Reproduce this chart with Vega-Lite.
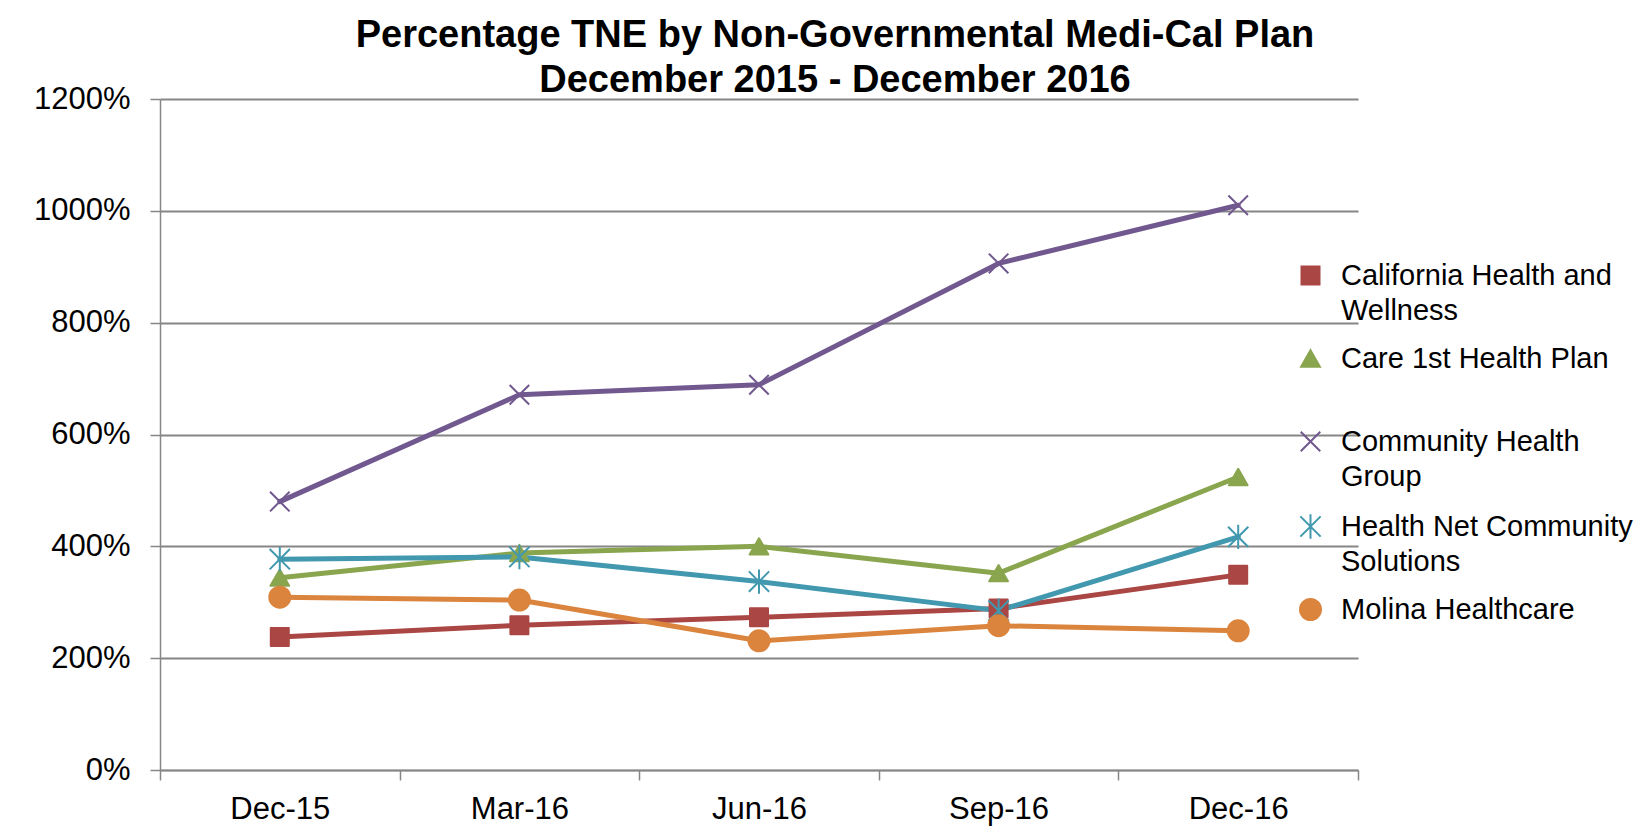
{
  "$schema": "https://vega.github.io/schema/vega-lite/v6.json",
  "width": 1198,
  "height": 671,
  "autosize": {"type": "none"},
  "padding": {"left": 160, "top": 99, "right": 290, "bottom": 59},
  "background": "white",
  "title": {
    "text": ["Percentage TNE by Non-Governmental Medi-Cal Plan", "December 2015 - December 2016"],
    "font": "Liberation Sans",
    "fontSize": 38,
    "fontWeight": "bold",
    "color": "black",
    "lineHeight": 45,
    "anchor": "middle",
    "frame": "group",
    "dx": 76,
    "offset": -17
  },
  "data": {
    "values": [
      {"plan": "California Health and Wellness", "month": "Dec-15", "pct": 238},
      {"plan": "California Health and Wellness", "month": "Mar-16", "pct": 259},
      {"plan": "California Health and Wellness", "month": "Jun-16", "pct": 273},
      {"plan": "California Health and Wellness", "month": "Sep-16", "pct": 289},
      {"plan": "California Health and Wellness", "month": "Dec-16", "pct": 349},
      {"plan": "Care 1st Health Plan", "month": "Dec-15", "pct": 344},
      {"plan": "Care 1st Health Plan", "month": "Mar-16", "pct": 388},
      {"plan": "Care 1st Health Plan", "month": "Jun-16", "pct": 400},
      {"plan": "Care 1st Health Plan", "month": "Sep-16", "pct": 352},
      {"plan": "Care 1st Health Plan", "month": "Dec-16", "pct": 524},
      {"plan": "Community Health Group", "month": "Dec-15", "pct": 480},
      {"plan": "Community Health Group", "month": "Mar-16", "pct": 671},
      {"plan": "Community Health Group", "month": "Jun-16", "pct": 689},
      {"plan": "Community Health Group", "month": "Sep-16", "pct": 906},
      {"plan": "Community Health Group", "month": "Dec-16", "pct": 1010},
      {"plan": "Health Net Community Solutions", "month": "Dec-15", "pct": 377},
      {"plan": "Health Net Community Solutions", "month": "Mar-16", "pct": 381},
      {"plan": "Health Net Community Solutions", "month": "Jun-16", "pct": 337},
      {"plan": "Health Net Community Solutions", "month": "Sep-16", "pct": 285},
      {"plan": "Health Net Community Solutions", "month": "Dec-16", "pct": 417},
      {"plan": "Molina Healthcare", "month": "Dec-15", "pct": 309},
      {"plan": "Molina Healthcare", "month": "Mar-16", "pct": 304},
      {"plan": "Molina Healthcare", "month": "Jun-16", "pct": 231},
      {"plan": "Molina Healthcare", "month": "Sep-16", "pct": 258},
      {"plan": "Molina Healthcare", "month": "Dec-16", "pct": 249}
    ]
  },
  "encoding": {
    "x": {
      "field": "month",
      "type": "ordinal",
      "sort": ["Dec-15", "Mar-16", "Jun-16", "Sep-16", "Dec-16"],
      "scale": {"type": "band", "paddingInner": 0, "paddingOuter": 0},
      "axis": {
        "title": null,
        "grid": false,
        "tickBand": "extent",
        "labelAngle": 0,
        "domainColor": "#868686",
        "domainWidth": 1.5,
        "tickColor": "#868686",
        "tickWidth": 1.5,
        "tickSize": 10,
        "labelFont": "Liberation Sans",
        "labelFontSize": 31,
        "labelColor": "black",
        "labelPadding": 14
      }
    },
    "y": {
      "field": "pct",
      "type": "quantitative",
      "scale": {"domain": [0, 1200], "nice": false, "zero": true},
      "axis": {
        "title": null,
        "values": [0, 200, 400, 600, 800, 1000, 1200],
        "labelExpr": "datum.value + '%'",
        "grid": true,
        "gridColor": "#868686",
        "gridWidth": 2,
        "domainColor": "#868686",
        "domainWidth": 1.5,
        "tickColor": "#868686",
        "tickWidth": 1.5,
        "tickSize": 10,
        "labelFont": "Liberation Sans",
        "labelFontSize": 31,
        "labelColor": "black",
        "labelPadding": 20
      }
    },
    "color": {
      "field": "plan",
      "type": "nominal",
      "scale": {
        "domain": ["California Health and Wellness", "Care 1st Health Plan", "Community Health Group", "Health Net Community Solutions", "Molina Healthcare"],
        "range": ["#AA4643", "#89A54E", "#71588F", "#4198AF", "#DB843D"]
      },
      "legend": {
        "orient": "none",
        "legendX": 1136,
        "legendY": 162,
        "title": null,
        "padding": 0,
        "labelFont": "Liberation Sans",
        "labelFontSize": 29,
        "labelColor": "black",
        "labelLimit": 400,
        "labelOffset": 16,
        "rowPadding": 18,
        "symbolSize": 324,
        "symbolStrokeWidth": 2,
        "labelExpr": "datum.label == 'California Health and Wellness' ? ['California Health and', 'Wellness'] : datum.label == 'Community Health Group' ? ['Community Health', 'Group'] : datum.label == 'Health Net Community Solutions' ? ['Health Net Community', 'Solutions'] : [datum.label, '']",
        "encode": {
          "labels": {"update": {"lineHeight": {"value": 35}}},
          "symbols": {
            "update": {
              "shape": {"value": {"expr": "datum.value == 'California Health and Wellness' ? 'M-3.1,-0.17L3.1,-0.17L3.1,0.17L-3.1,0.17ZM-1,-1L1,-1L1,1L-1,1Z' : datum.value == 'Care 1st Health Plan' ? 'M-3.1,-0.17L3.1,-0.17L3.1,0.17L-3.1,0.17ZM0,-1.05L1.15,0.95L-1.15,0.95Z' : datum.value == 'Community Health Group' ? 'M-3.1,-0.17L3.1,-0.17L3.1,0.17L-3.1,0.17ZM-1,-1L1,1M-1,1L1,-1' : datum.value == 'Health Net Community Solutions' ? 'M-3.1,-0.17L3.1,-0.17L3.1,0.17L-3.1,0.17ZM-1,-1L1,1M-1,1L1,-1M0,-1.2L0,1.2' : 'M-3.1,-0.17L3.1,-0.17L3.1,0.17L-3.1,0.17ZM1,0L0.924,0.383L0.707,0.707L0.383,0.924L0,1L-0.383,0.924L-0.707,0.707L-0.924,0.383L-1,0L-0.924,-0.383L-0.707,-0.707L-0.383,-0.924L0,-1L0.383,-0.924L0.707,-0.707L0.924,-0.383Z'"}},
              "fill": {"value": {"expr": "scale('color', datum.value)"}},
              "stroke": {"value": {"expr": "scale('color', datum.value)"}},
              "strokeWidth": {"value": 2},
              "opacity": {"value": 1},
              "fillOpacity": {"value": 1}
            }
          }
        }
      }
    }
  },
  "layer": [
    {
      "mark": {"type": "line", "strokeWidth": 5, "strokeCap": "round", "strokeJoin": "round"}
    },
    {
      "mark": {"type": "point", "filled": true, "opacity": 1, "strokeWidth": 2, "strokeJoin": "round"},
      "encoding": {
        "shape": {
          "field": "plan",
          "type": "nominal",
          "scale": {
            "domain": ["California Health and Wellness", "Care 1st Health Plan", "Community Health Group", "Health Net Community Solutions", "Molina Healthcare"],
            "range": ["square", "triangle-up", "M-1,-1L1,1M-1,1L1,-1", "M-1,-1L1,1M-1,1L1,-1M0,-1.2L0,1.2", "circle"]
          },
          "legend": null
        },
        "size": {
          "field": "plan",
          "type": "nominal",
          "scale": {
            "domain": ["California Health and Wellness", "Care 1st Health Plan", "Community Health Group", "Health Net Community Solutions", "Molina Healthcare"],
            "range": [324, 441, 361, 361, 324]
          },
          "legend": null
        },
        "stroke": {
          "field": "plan",
          "type": "nominal",
          "scale": {
            "domain": ["California Health and Wellness", "Care 1st Health Plan", "Community Health Group", "Health Net Community Solutions", "Molina Healthcare"],
            "range": ["#AA4643", "#89A54E", "#71588F", "#4198AF", "#DB843D"]
          },
          "legend": null
        }
      }
    }
  ],
  "config": {
    "view": {"stroke": null},
    "font": "Liberation Sans"
  }
}
